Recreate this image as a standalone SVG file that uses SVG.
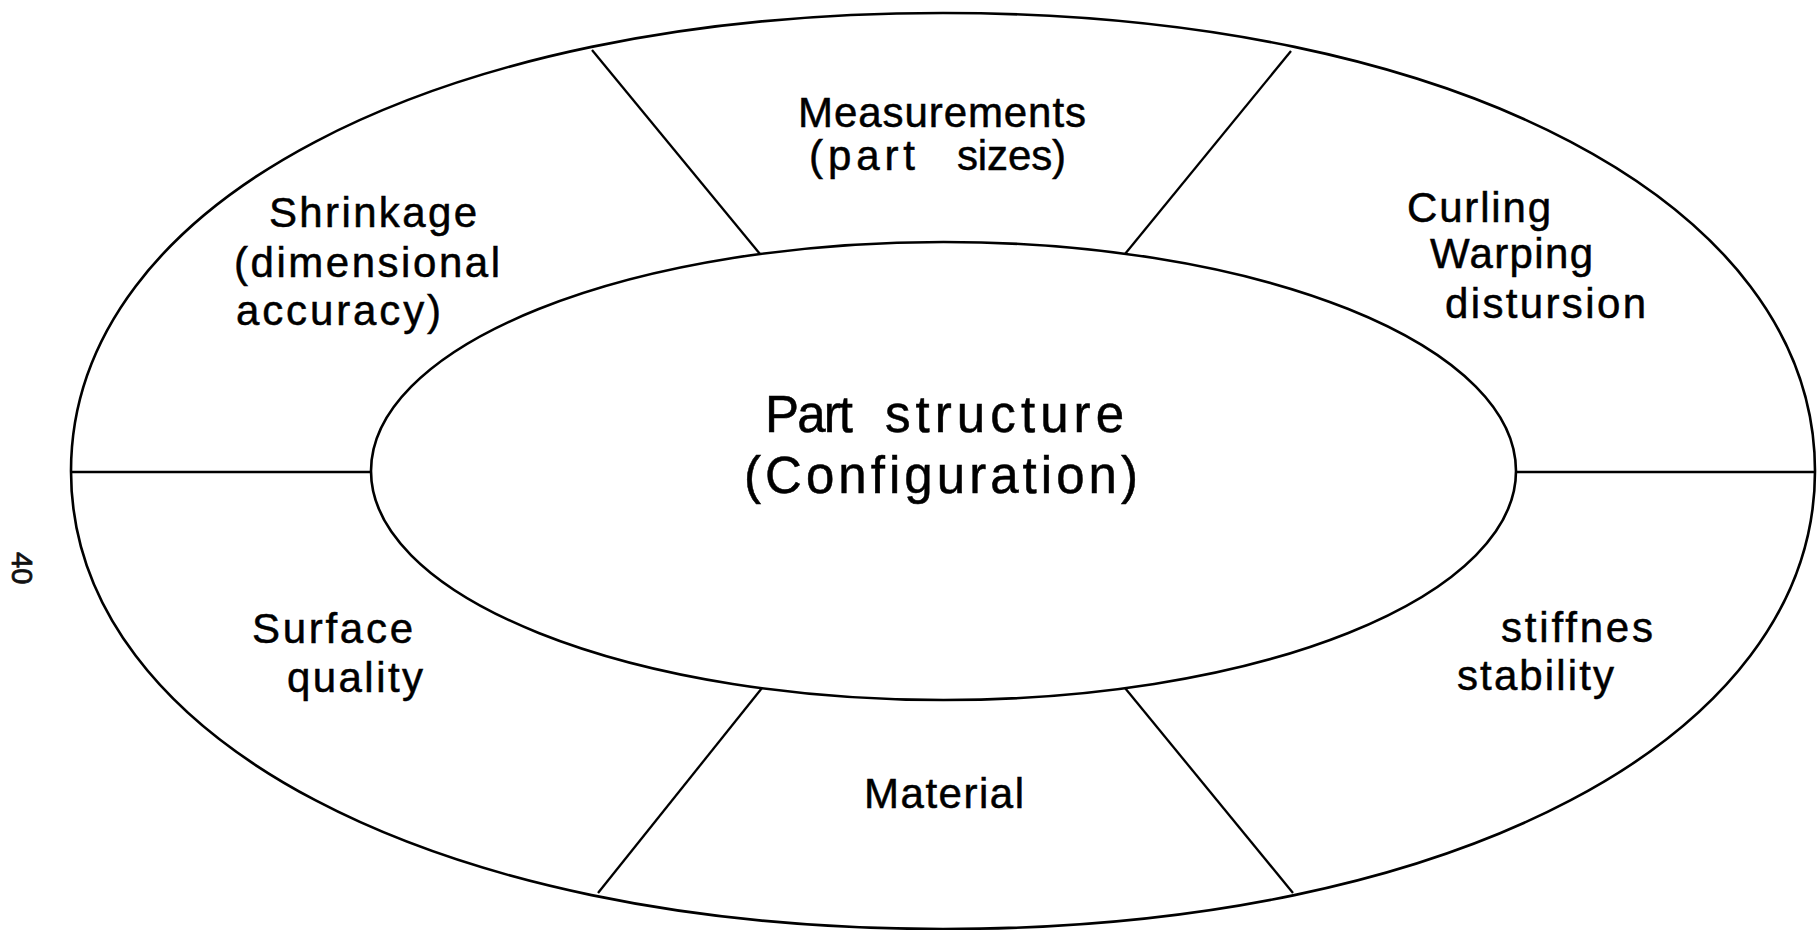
<svg xmlns="http://www.w3.org/2000/svg" width="1820" height="930" viewBox="0 0 1820 930">
  <style>
    .shape { fill: none; stroke: #000; stroke-width: 2.6; }
    .div { stroke: #000; stroke-width: 2.3; fill: none; }
    .lbl { font-family: "Liberation Sans", Arial, sans-serif; font-size: 42px; fill: #000; stroke: #000; stroke-width: 0.5; }
    .core { font-family: "Liberation Sans", Arial, sans-serif; font-size: 51px; fill: #000; stroke: #000; stroke-width: 0.5; }
    .pg { font-family: "Liberation Sans", Arial, sans-serif; font-size: 29px; fill: #111; stroke: #111; stroke-width: 0.8; }
  </style>
  <rect width="1820" height="930" fill="#fff"/>

  <!-- outer ring boundary -->
  <g id="outer-ring">
    <path class="shape" d="M 71 471 C 71 203.1, 432.9 13, 943 13 C 1453.1 13, 1815 203.1, 1815 471 C 1815 738.9, 1453.1 929, 943 929 C 432.9 929, 71 738.9, 71 471 Z"/>
  </g>

  <!-- centre: part structure -->
  <g id="part-structure">
    <ellipse class="shape" cx="943.5" cy="471" rx="572.5" ry="229"/>
    <text class="core" x="765" y="432" textLength="88" lengthAdjust="spacing">Part</text>
    <text class="core" x="885" y="432" textLength="239" lengthAdjust="spacing">structure</text>
    <text class="core" x="744" y="493" textLength="394" lengthAdjust="spacing">(Configuration)</text>
  </g>

  <!-- radial dividers between ring segments -->
  <g id="connectors">
    <line class="div" x1="71" y1="472" x2="372" y2="472"/>
    <line class="div" x1="1515" y1="472" x2="1815" y2="472"/>
    <line class="div" x1="592" y1="50" x2="760" y2="254"/>
    <line class="div" x1="1291" y1="51" x2="1125" y2="254"/>
    <line class="div" x1="598" y1="893" x2="762" y2="688"/>
    <line class="div" x1="1293" y1="893" x2="1125" y2="688"/>
  </g>

  <g id="measurements">
    <text class="lbl" x="798" y="127" textLength="288" lengthAdjust="spacing">Measurements</text>
    <text class="lbl" x="809" y="170" textLength="106" lengthAdjust="spacing">(part</text>
    <text class="lbl" x="957" y="170" textLength="109" lengthAdjust="spacing">sizes)</text>
  </g>

  <g id="shrinkage">
    <text class="lbl" x="269" y="227" textLength="208" lengthAdjust="spacing">Shrinkage</text>
    <text class="lbl" x="234" y="277" textLength="266" lengthAdjust="spacing">(dimensional</text>
    <text class="lbl" x="236" y="325" textLength="205" lengthAdjust="spacing">accuracy)</text>
  </g>

  <g id="curling">
    <text class="lbl" x="1407" y="222" textLength="144" lengthAdjust="spacing">Curling</text>
    <text class="lbl" x="1430" y="268" textLength="163" lengthAdjust="spacing">Warping</text>
    <text class="lbl" x="1445" y="318" textLength="201" lengthAdjust="spacing">distursion</text>
  </g>

  <g id="surface">
    <text class="lbl" x="252" y="643" textLength="161" lengthAdjust="spacing">Surface</text>
    <text class="lbl" x="287" y="692" textLength="136" lengthAdjust="spacing">quality</text>
  </g>

  <g id="material">
    <text class="lbl" x="864" y="808" textLength="160" lengthAdjust="spacing">Material</text>
  </g>

  <g id="stiffness">
    <text class="lbl" x="1501" y="642" textLength="152" lengthAdjust="spacing">stiffnes</text>
    <text class="lbl" x="1457" y="690" textLength="157" lengthAdjust="spacing">stability</text>
  </g>

  <!-- page number, printed sideways -->
  <text class="pg" transform="translate(12 552) rotate(90)">40</text>
</svg>
